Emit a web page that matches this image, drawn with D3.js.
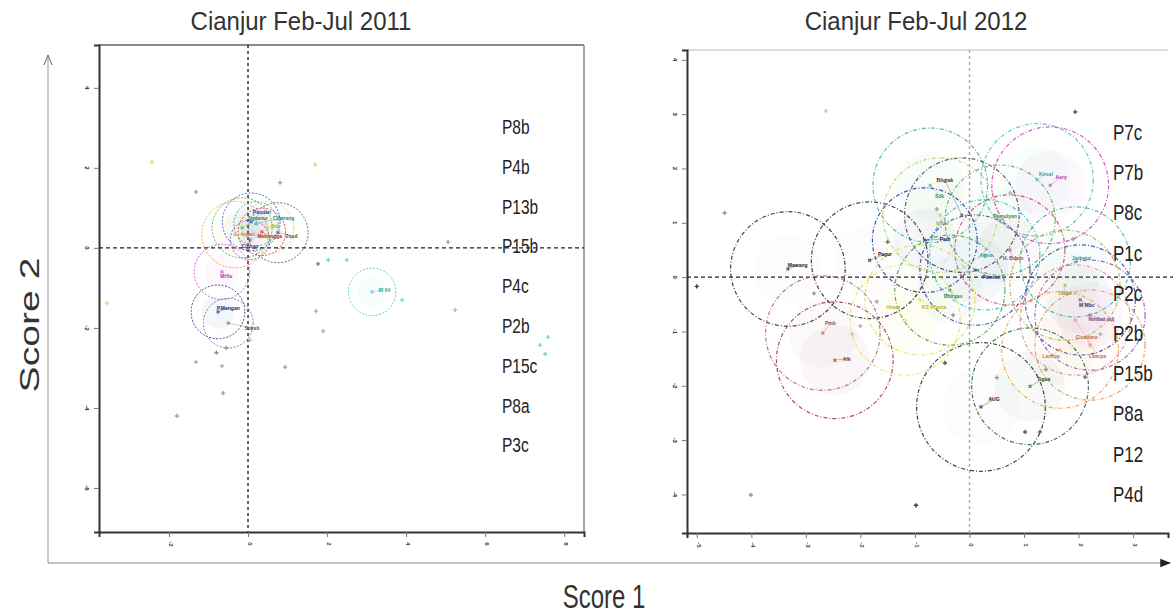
<!DOCTYPE html>
<html>
<head>
<meta charset="utf-8">
<script src="https://cdn.jsdelivr.net/npm/d3@7"></script>
<style>
  html, body { margin: 0; padding: 0; background: #fff; }
  svg { display: block; font-family: "Liberation Sans", Arial, sans-serif; }
</style>
</head>
<body>
<svg id="chart" width="1176" height="615"></svg>
<script>
// ---- Data -------------------------------------------------------------
const panelTitles = ["Cianjur Feb-Jul 2011", "Cianjur Feb-Jul 2012"];
const xAxisTitle = "Score 1";
const yAxisTitle = "Score 2";

// tick values of each panel
const xTicks2011 = [-2, 0, 2, 4, 6, 8];
const yTicks2011 = [4, 2, 0, -2, -4, -6];
const xTicks2012 = [-5, -4, -3, -2, -1, 0, 1, 2, 3];
const yTicks2012 = [4, 3, 2, 1, 0, -1, -2, -3, -4];

// plot labels listed inside each panel
const plots2011 = ["P8b", "P4b", "P13b", "P15b", "P4c", "P2b", "P15c", "P8a", "P3c"];
const plots2012 = ["P7c", "P7b", "P8c", "P1c", "P2c", "P2b", "P15b", "P8a", "P12", "P4d"];

// variety groups: name, centre score 1, centre score 2, circle radius (score units)
const groups2011 = [
  ["Pandan",   0.08,  0.65, 0.73],
  ["Sintanur", -0.15, 0.50, 0.76],
  ["Inpari",  -0.33,  0.33, 0.84],
  ["Zsud",     0.76,  0.38, 0.76],
  ["Mekongga", 0.35,  0.40, 0.60],
  ["Ciherang", 0.20,  0.60, 0.56],
  ["Cibogo",   0.05,  0.20, 0.50],
  ["Situ",     0.50,  0.50, 0.66],
  ["Mr5u",    -0.66, -0.60, 0.70],
  ["P.Mengan",-0.76, -1.60, 0.68],
  ["Sukab",   -0.50, -1.88, 0.63],
  ["IR 64",    3.14, -1.10, 0.60]
];
const groups2012 = [
  ["Mawang",   -3.33,  0.15, 1.05],
  ["Pagur",    -1.83,  0.31, 1.07],
  ["Pmb",      -2.69, -1.03, 1.05],
  ["Afk",      -2.47, -1.53, 1.07],
  ["Sdk",      -0.72,  1.69, 1.05],
  ["Ipmu",     -0.54,  1.14, 1.05],
  ["Padi",     -0.82,  0.68, 0.96],
  ["Bligtak",  -0.14,  1.14, 1.05],
  ["Kirsal",    1.24,  1.79, 1.03],
  ["Asry",      1.48,  1.69, 1.07],
  ["Pamulyan",  0.56,  1.05, 1.01],
  ["Agns",      0.28,  0.41, 1.01],
  ["H. Bdsin",  0.74,  0.50, 1.01],
  ["Pamnot",    0.10,  0.13, 1.01],
  ["Dhirgas",  -0.36, -0.24, 1.01],
  ["KS hTanta",-0.91, -0.42, 1.01],
  ["Ubud",      1.75, -0.15, 1.01],
  ["M Mbc",     2.03, -0.42, 1.01],
  ["Nmibat ddj",2.21, -0.70, 1.01],
  ["Lbacpe",    1.94, -0.79, 1.01],
  ["Lamlap",    1.66, -1.34, 1.07],
  ["Cisadane",  2.21, -1.25, 1.01],
  ["Tigua",     1.11, -2.01, 1.07],
  ["AUG",       0.21, -2.39, 1.18],
  ["Jarbatai",  1.94,  0.28, 1.01],
  ["Hitam",    -1.18, -0.79, 1.01]
];

// label anchor of each group (score units)
const labelPos2011 = [
  [0.35, 0.90], [0.25, 0.75], [0.0, 0.35], [1.10, 0.30], [0.55, 0.30], [0.90, 0.75],
  [0.05, 0.05], [0.70, 0.55], [-0.55, -0.70], [-0.50, -1.50], [0.10, -2.00], [3.45, -1.05]
];
const labelPos2012 = [
  [-3.15, 0.22], [-1.55, 0.42], [-2.55, -0.85], [-2.25, -1.50], [-0.55, 1.50], [-0.50, 1.00],
  [-0.45, 0.70], [-0.45, 1.78], [1.40, 1.90], [1.68, 1.84], [0.65, 1.12], [0.30, 0.40],
  [0.80, 0.36], [0.40, 0.00], [-0.30, -0.35], [-0.65, -0.55], [1.75, -0.30], [2.15, -0.52],
  [2.42, -0.78], [2.35, -1.45], [1.50, -1.45], [2.15, -1.10], [1.36, -1.87], [0.45, -2.25],
  [2.05, 0.36], [-1.40, -0.55]
];

// scattered individual observations (score 1, score 2)
const points2011 = [
  [-2.43, 2.15], [1.70, 2.08], [-1.32, 1.40], [0.81, 1.63], [-3.57, -1.38], [5.06, 0.15],
  [1.77, -0.40], [2.03, -0.30], [1.72, -1.58], [1.90, -2.08], [0.94, -2.98], [-0.66, -2.95],
  [-1.32, -2.85], [-0.63, -3.63], [-1.80, -4.20], [5.24, -1.55], [7.39, -2.43], [7.52, -2.65],
  [7.59, -2.23], [3.90, -1.30], [2.50, -0.30], [0.05, -2.30], [-0.80, -2.62], [-0.55, -2.50]
];
const points2012 = [
  [-4.01, -4.01], [-5.00, -0.17], [-4.49, 1.18], [-2.63, 3.06], [1.94, 3.04], [-0.98, -4.20],
  [1.02, -2.85], [1.29, -2.85], [-0.45, -1.58], [-2.00, -0.90], [2.12, -1.84], [-2.85, -0.30],
  [-1.50, 0.65], [-2.15, -1.05], [-1.70, -0.45], [0.50, -1.85], [1.40, -1.70], [-0.60, 1.25],
  [0.75, 1.55], [1.90, 0.70], [-0.30, -0.70], [2.40, -1.05]
];

// ---- Styling ----------------------------------------------------------
const colors2011 = ["#3050d0", "#30b040", "#f0a030", "#555555", "#d03030", "#20b0a0",
                    "#8040c0", "#d8d840", "#d040d0", "#203080", "#707080", "#30d0d0"];
const colors2012 = ["#222222", "#222222", "#b06070", "#a03040", "#40b090", "#c0d060",
                    "#2030a0", "#404040", "#40c0c0", "#d040b0", "#50b050", "#30c0d0",
                    "#c04060", "#3040a0", "#40a040", "#e0e040", "#b0b040", "#404090",
                    "#9050b0", "#e080a0", "#f0a040", "#e09050", "#206030", "#202020",
                    "#40b0b0", "#e8e060"];
const pointColors2011 = ["#e0d070", "#e0d070", "#999", "#999", "#e0d070", "#999",
                         "#a050a0", "#70d0d0", "#aaa", "#aaa", "#999", "#aaa",
                         "#aaa", "#999", "#999", "#70d0d0", "#70d0d0", "#70d0d0",
                         "#70d0d0", "#70d0d0", "#70d0d0", "#bbb", "#888", "#999"];
const pointColors2012 = ["#888", "#222", "#888", "#b0c8c0", "#444", "#222",
                         "#444", "#666", "#444", "#aaa", "#666", "#888",
                         "#666", "#bbb", "#999", "#888", "#888", "#999",
                         "#aaa", "#999", "#888", "#aaa"];

const svg = d3.select("#chart");

// text drawn with a vertical stretch factor (glyphs are tall and narrow)
function tallText(parent, x, y, str, size, opts = {}) {
  const rot = opts.rotate || 0;
  const s = opts.stretch || 1;
  return parent.append("text")
    .attr("transform", `translate(${x},${y}) rotate(${rot}) scale(${rot ? s : 1},${rot ? 1 : s})`)
    .attr("font-size", size).attr("fill", opts.fill || "#222")
    .attr("text-anchor", opts.anchor || "start").text(str);
}

// ---- Global score axes with arrows -----------------------------------
const defs = svg.append("defs");
defs.append("marker").attr("id", "arrowFilled")
  .attr("viewBox", "0 0 10 10").attr("refX", 9).attr("refY", 5)
  .attr("markerWidth", 9).attr("markerHeight", 9).attr("orient", "auto")
  .append("path").attr("d", "M0,1 L10,5 L0,9 Z").attr("fill", "#222");
defs.append("marker").attr("id", "arrowOpen")
  .attr("viewBox", "0 0 10 10").attr("refX", 9).attr("refY", 5)
  .attr("markerWidth", 10).attr("markerHeight", 10).attr("orient", "auto")
  .append("path").attr("d", "M0,1 L10,5 L0,9").attr("fill", "none")
  .attr("stroke", "#666").attr("stroke-width", 1);

svg.append("line").attr("x1", 48).attr("y1", 563).attr("x2", 48).attr("y2", 56)
  .attr("stroke", "#999").attr("stroke-width", 1).attr("marker-end", "url(#arrowOpen)");
svg.append("line").attr("x1", 48).attr("y1", 563).attr("x2", 1170).attr("y2", 563)
  .attr("stroke", "#888").attr("stroke-width", 1.2).attr("marker-end", "url(#arrowFilled)");

tallText(svg, 604, 608, xAxisTitle, 24, { anchor: "middle", fill: "#333", stretch: 1.35 });
tallText(svg, 39, 325, yAxisTitle, 27, { anchor: "middle", fill: "#333", rotate: -90, stretch: 1.45 });

// ---- Panel drawing ----------------------------------------------------
function drawPanel(cfg) {
  const x = d3.scaleLinear().domain(cfg.xDomain).range([cfg.left, cfg.right]);
  const y = d3.scaleLinear().domain(cfg.yDomain).range([cfg.top, cfg.bottom]);
  const g = svg.append("g");

  // title
  tallText(g, cfg.titleX, 30, cfg.title, 24, { anchor: "middle", fill: "#333", stretch: 1.05 });

  // frame: light top/right, dark left/bottom
  g.append("line").attr("x1", cfg.left).attr("x2", cfg.right).attr("y1", cfg.top).attr("y2", cfg.top)
    .attr("stroke", cfg.topStroke).attr("stroke-width", 2);
  if (cfg.rightBorder) {
    g.append("line").attr("x1", cfg.right).attr("x2", cfg.right).attr("y1", cfg.top).attr("y2", cfg.bottom)
      .attr("stroke", "#888").attr("stroke-width", 1.5);
  }

  // axes through the library's axis generators
  const yAxis = d3.axisLeft(y).tickValues(cfg.yTicks).tickSize(5).tickFormat("");
  const xAxis = d3.axisBottom(x).tickValues(cfg.xTicks).tickSize(5).tickFormat("");
  const ya = g.append("g").attr("transform", `translate(${cfg.left},0)`).call(yAxis);
  const xa = g.append("g").attr("transform", `translate(0,${cfg.bottom})`).call(xAxis);
  [ya, xa].forEach(a => {
    a.select(".domain").attr("stroke", "#333").attr("stroke-width", 2);
    a.selectAll(".tick line").attr("stroke", "#777");
  });
  // tiny rotated tick numerals
  g.selectAll(".ylab").data(cfg.yTicks).join("text")
    .attr("transform", d => `translate(${cfg.left - 14},${y(d)}) rotate(90)`)
    .attr("text-anchor", "middle").attr("font-size", 6).attr("font-weight", "bold")
    .attr("fill", "#222").text(d => d);
  g.selectAll(".xlab").data(cfg.xTicks).join("text")
    .attr("transform", d => `translate(${x(d)},${cfg.bottom + 12}) rotate(90)`)
    .attr("text-anchor", "middle").attr("font-size", 6).attr("font-weight", "bold")
    .attr("fill", "#444").text(d => d);

  // zero reference lines
  g.append("line").attr("x1", x(0)).attr("x2", x(0)).attr("y1", cfg.top).attr("y2", cfg.bottom)
    .attr("stroke", cfg.vZeroColor).attr("stroke-width", 1.4).attr("stroke-dasharray", "3,3");
  g.append("line").attr("x1", cfg.left).attr("x2", cfg.hZeroEnd).attr("y1", y(0)).attr("y2", y(0))
    .attr("stroke", "#222").attr("stroke-width", 1.2).attr("stroke-dasharray", "4,3");

  const r = v => x(v) - x(0);

  // faint tinted fill for each group
  g.selectAll(".halo").data(cfg.groups).join("circle")
    .attr("cx", d => x(d[1])).attr("cy", d => y(d[2])).attr("r", d => r(d[3]) * 0.6)
    .attr("fill", (d, i) => cfg.colors[i])
    .attr("fill-opacity", (d, i) => d3.hsl(cfg.colors[i]).s > 0.2 ? 0.04 : 0.012);

  // observations
  g.selectAll(".pt").data(cfg.points).join("path")
    .attr("transform", d => `translate(${x(d[0])},${y(d[1])})`)
    .attr("d", d3.symbol(d3.symbolCross, 10))
    .attr("fill", (d, i) => cfg.pointColors[i]).attr("fill-opacity", 0.9);

  // group circles
  g.selectAll(".grp").data(cfg.groups).join("circle")
    .attr("cx", d => x(d[1])).attr("cy", d => y(d[2])).attr("r", d => r(d[3]))
    .attr("fill", "none").attr("stroke", (d, i) => cfg.colors[i])
    .attr("stroke-width", cfg.circleWidth).attr("stroke-dasharray", cfg.dash)
    .attr("stroke-opacity", 0.85);

  // centre marks and spokes to label
  g.selectAll(".ctr").data(cfg.groups).join("path")
    .attr("transform", d => `translate(${x(d[1])},${y(d[2])}) rotate(45)`)
    .attr("d", d3.symbol(d3.symbolCross, 9))
    .attr("fill", (d, i) => cfg.colors[i]).attr("fill-opacity", 0.7);
  g.selectAll(".spk").data(cfg.groups).join("line")
    .attr("x1", d => x(d[1])).attr("y1", d => y(d[2]))
    .attr("x2", (d, i) => x(cfg.labelPos[i][0])).attr("y2", (d, i) => y(cfg.labelPos[i][1]))
    .attr("stroke", (d, i) => cfg.colors[i]).attr("stroke-width", 0.6).attr("stroke-opacity", 0.6);

  // group names
  g.selectAll(".gname").data(cfg.groups).join("text")
    .attr("x", (d, i) => x(cfg.labelPos[i][0])).attr("y", (d, i) => y(cfg.labelPos[i][1]) + 2)
    .attr("text-anchor", "middle").attr("font-size", 5).attr("font-weight", "bold")
    .attr("fill", (d, i) => d3.color(cfg.colors[i]).darker(0.6)).text(d => d[0]);

  // plot list
  cfg.plots.forEach((p, i) => {
    tallText(g, cfg.plotX, cfg.plotY0 + i * cfg.plotStep, p, cfg.plotSize, { fill: "#222", stretch: 1.25 });
  });
}

drawPanel({
  title: panelTitles[0], titleX: 301,
  left: 99, right: 584, top: 45, bottom: 532,
  xDomain: [-3.77, 8.5], yDomain: [5.07, -7.1],
  xTicks: xTicks2011, yTicks: yTicks2011,
  topStroke: "#888", rightBorder: true, vZeroColor: "#222", hZeroEnd: 584,
  groups: groups2011, colors: colors2011, labelPos: labelPos2011,
  points: points2011, pointColors: pointColors2011,
  circleWidth: 1, dash: "2,1.5",
  plots: plots2011, plotX: 502, plotY0: 134, plotStep: 39.8, plotSize: 15.5
});

drawPanel({
  title: panelTitles[1], titleX: 916,
  left: 687, right: 1168, top: 50, bottom: 533,
  xDomain: [-5.18, 3.64], yDomain: [4.18, -4.71],
  xTicks: xTicks2012, yTicks: yTicks2012,
  topStroke: "#ddd", rightBorder: false, vZeroColor: "#aaa", hZeroEnd: 1173,
  groups: groups2012, colors: colors2012, labelPos: labelPos2012,
  points: points2012, pointColors: pointColors2012,
  circleWidth: 1.2, dash: "4,2,1,2",
  plots: plots2012, plotX: 1113, plotY0: 140, plotStep: 40.2, plotSize: 17
});
</script>
</body>
</html>
